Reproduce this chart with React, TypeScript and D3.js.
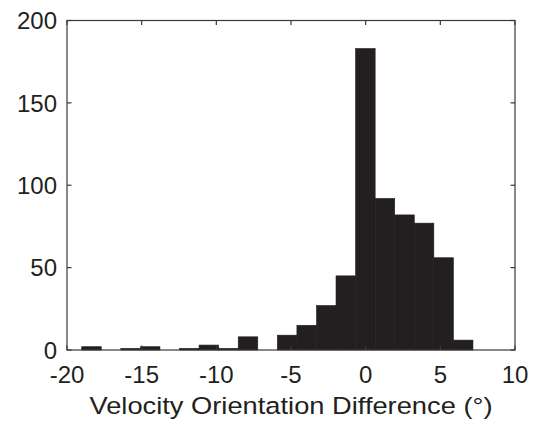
import React from "react";
import * as d3 from "d3";

const binCenters = [-18.36, -17.05, -15.74, -14.43, -13.12, -11.81, -10.5, -9.19, -7.88, -6.57, -5.26, -3.95, -2.64, -1.33, -0.02, 1.29, 2.6, 3.91, 5.22, 6.53];
const counts = [2, 0, 1, 2, 0, 1, 3, 1, 8, 0, 9, 15, 27, 45, 183, 92, 82, 77, 56, 6];
const binWidth = 1.31;
const xTicks = [-20, -15, -10, -5, 0, 5, 10];
const yTicks = [0, 50, 100, 150, 200];
const xLabel = "Velocity Orientation Difference (°)";

export default function App() {
  const W = 536, H = 422;
  const left = 67, right = 515, top = 20.5, bottom = 350;
  const x = d3.scaleLinear().domain([-20, 10]).range([left, right]);
  const y = d3.scaleLinear().domain([0, 200]).range([bottom, top]);
  const tl = 4.5;
  const axisColor = "#3a3a3a";
  const barColor = "#231f20";
  const font = "'Liberation Sans', Arial, sans-serif";
  return (
    <svg width={W} height={H} style={{ position: "absolute", left: 0, top: 0, background: "#fff" }}>
      <rect x={0} y={0} width={W} height={H} fill="#fff" />
      {binCenters.map((c, i) =>
        counts[i] > 0 ? (
          <rect
            key={i}
            x={x(c - binWidth / 2)}
            y={y(counts[i])}
            width={x(c + binWidth / 2) - x(c - binWidth / 2)}
            height={y(0) - y(counts[i])}
            fill={barColor}
            stroke={barColor}
            strokeWidth={0.6}
          />
        ) : null
      )}
      <rect x={left} y={top} width={right - left} height={bottom - top} fill="none" stroke={axisColor} strokeWidth={1.2} />
      {xTicks.map((t) => (
        <g key={"x" + t}>
          <line x1={x(t)} x2={x(t)} y1={bottom} y2={bottom - tl} stroke={axisColor} strokeWidth={1.2} />
          <line x1={x(t)} x2={x(t)} y1={top} y2={top + tl} stroke={axisColor} strokeWidth={1.2} />
          <text x={x(t)} y={383} textAnchor="middle" fontFamily={font} fontSize={24} fill="#231f20">
            {t}
          </text>
        </g>
      ))}
      {yTicks.map((t) => (
        <g key={"y" + t}>
          <line x1={left} x2={left + tl} y1={y(t)} y2={y(t)} stroke={axisColor} strokeWidth={1.2} />
          <line x1={right} x2={right - tl} y1={y(t)} y2={y(t)} stroke={axisColor} strokeWidth={1.2} />
          <text x={57} y={y(t)} dy="0.36em" textAnchor="end" fontFamily={font} fontSize={24} fill="#231f20">
            {t}
          </text>
        </g>
      ))}
      <text
        x={(left + right) / 2}
        y={414}
        textAnchor="middle"
        fontFamily={font}
        fontSize={24.5}
        fill="#231f20"
        textLength={403}
        lengthAdjust="spacingAndGlyphs"
      >
        {xLabel}
      </text>
    </svg>
  );
}
